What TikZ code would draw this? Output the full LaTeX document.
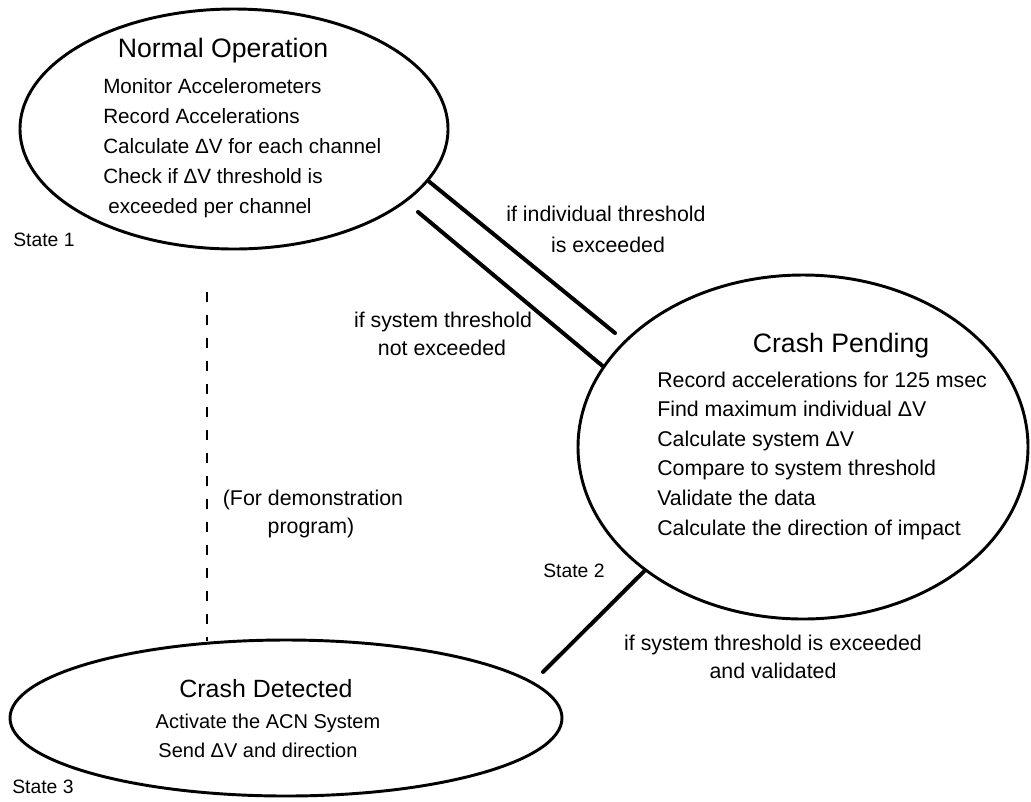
\documentclass[tikz,border=0pt]{standalone}
\usepackage{fontspec}
\setmainfont{Liberation Sans}
\usetikzlibrary{shapes.geometric}

\begin{document}
\begin{tikzpicture}[
        x=0.75pt, y=-0.75pt,
        state/.style={draw, ellipse, line width=2.2pt, inner sep=0pt},
        title/.style={font=\fontsize{20}{24}\selectfont, anchor=base, inner sep=0pt},
        item/.style={font=\fontsize{15.5}{18}\selectfont, anchor=base west, inner sep=0pt},
        cond/.style={font=\fontsize{16}{19}\selectfont, anchor=base, inner sep=0pt},
        tag/.style={font=\fontsize{14.5}{17}\selectfont, anchor=base west, inner sep=0pt},
        link/.style={line width=3pt, line cap=round},
        demo/.style={line width=2.2pt, dash pattern=on 7.5pt off 9.75pt}]

    \useasboundingbox (0,0) rectangle (1031,801);

    % --- States
    \node[state, minimum width=321pt, minimum height=180pt] (normal) at (234,129) {};
    \node[state, minimum width=337.5pt, minimum height=258pt] (pending) at (803,447) {};
    \node[state, minimum width=414pt, minimum height=117pt] (detected) at (286,718) {};

    % --- State 1: Normal Operation
    \node[title] (normT) at (223,57) {Normal Operation};
    \foreach \i/\t in {0/Monitor Accelerometers, 1/Record Accelerations,
                       2/Calculate ΔV for each channel, 3/Check if ΔV threshold is}
        \node[item] (norm\i) at (103,{93+30*\i}) {\t};
    \node[item] (norm4) at (108,213) {exceeded per channel};
    \node[tag] (tag1) at (13,246) {State 1};

    % --- State 2: Crash Pending
    \node[title] (pendT) at (841,352) {Crash Pending};
    \foreach \i/\t in {0/Record accelerations for 125 msec, 1/Find maximum individual ΔV,
                       2/Calculate system ΔV, 3/Compare to system threshold,
                       4/Validate the data, 5/Calculate the direction of impact}
        \node[item, font=\fontsize{16}{19}\selectfont] (pend\i) at (657,{387+29.6*\i}) {\t};
    \node[tag] (tag2) at (543,577) {State 2};

    % --- State 3: Crash Detected
    \node[title, font=\fontsize{18.7}{22}\selectfont] (detT) at (266,697) {Crash Detected};
    \node[cond, font=\fontsize{15}{18}\selectfont] (det0) at (268,728) {Activate the ACN System};
    \node[cond, font=\fontsize{15}{18}\selectfont] (det1) at (258,757) {Send ΔV and direction};
    \node[tag] (tag3) at (12,793) {State 3};

    % --- Transitions
    \coordinate (indiv) at (615,333);
    \coordinate (back) at (418,212);
    \coordinate (fire) at (543,672);
    \coordinate (demo) at (207,292);
    \draw[link] (normal.-15.3) -- (indiv);
    \draw[link] (back) -- (pending.158);
    \draw[link] (pending.-142.5) -- (fire);
    \draw[demo] (demo) -- (demo |- detected.134);

    % --- Transition labels
    \node[cond] (indivA) at (606,221) {if individual threshold};
    \node[cond] (indivB) at (608,252) {is exceeded};
    \node[cond] (backA) at (443,327) {if system threshold};
    \node[cond] (backB) at (442,355) {not exceeded};
    \node[cond] (demoA) at (313,505) {(For demonstration};
    \node[cond] (demoB) at (311,533) {program)};
    \node[cond] (fireA) at (773,650) {if system threshold is exceeded};
    \node[cond] (fireB) at (773,678) {and validated};

\end{tikzpicture}
\end{document}
